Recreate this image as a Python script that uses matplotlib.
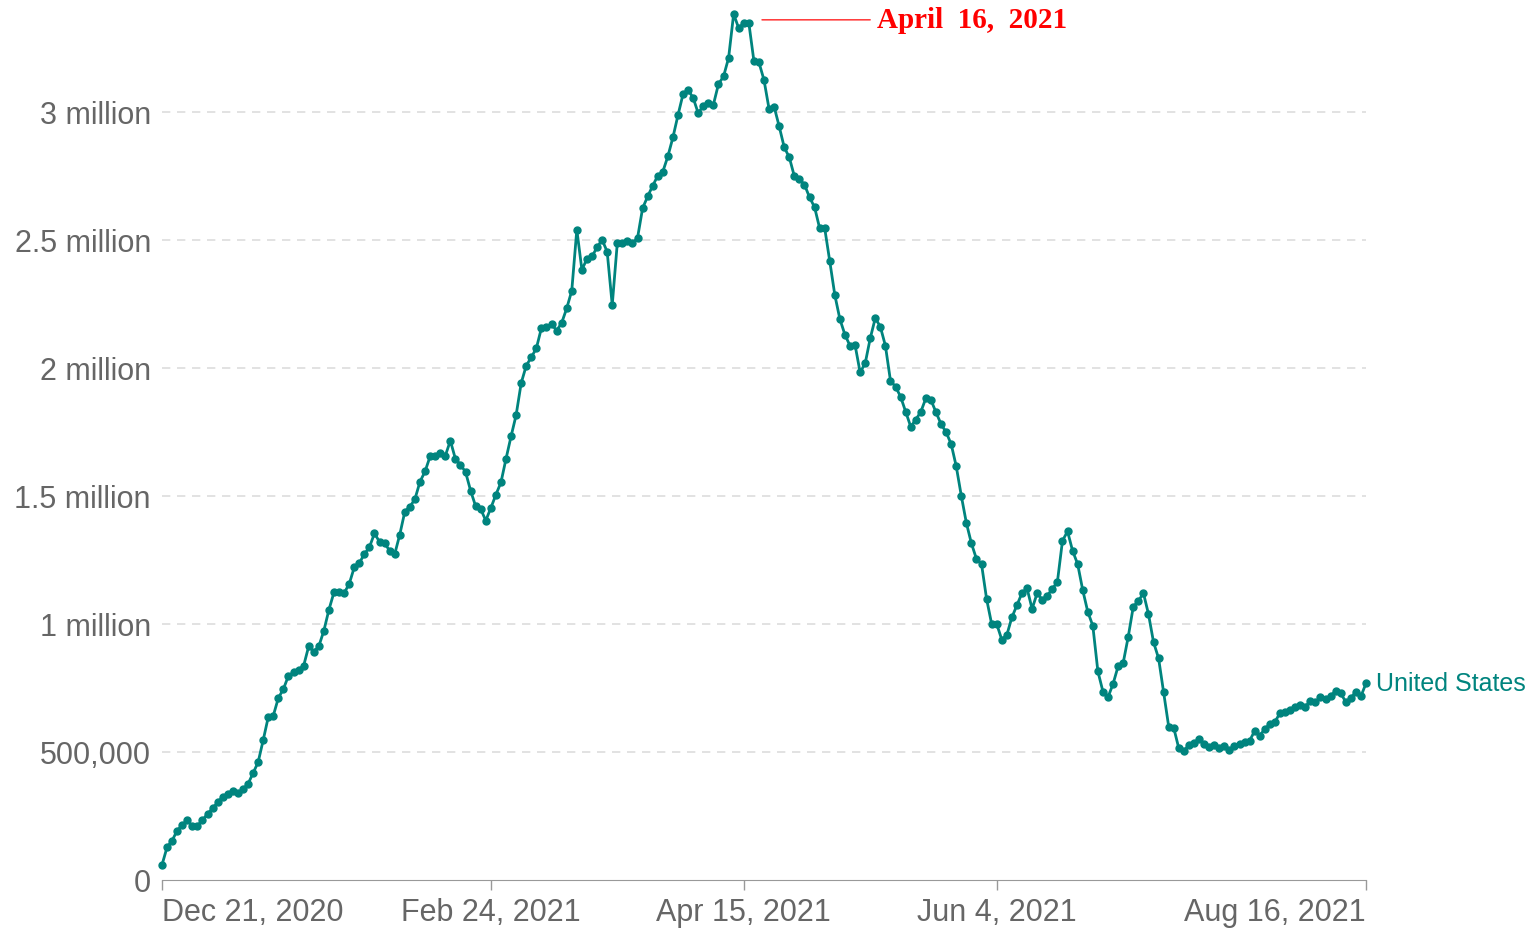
import matplotlib
matplotlib.use("Agg")
import matplotlib.pyplot as plt
import pandas as pd

# Daily doses administered, United States (millions), Dec 21 2020 .. Aug 16 2021
start_date = "2020-12-21"
doses_m = [
    0.059, 0.128, 0.154, 0.193, 0.215, 0.234, 0.210, 0.212, 0.234, 0.258,
    0.280, 0.303, 0.325, 0.336, 0.349, 0.339, 0.355, 0.375, 0.417, 0.460,
    0.546, 0.636, 0.642, 0.711, 0.746, 0.798, 0.811, 0.821, 0.837, 0.913,
    0.892, 0.913, 0.974, 1.056, 1.124, 1.126, 1.121, 1.156, 1.221, 1.238,
    1.273, 1.300, 1.354, 1.321, 1.316, 1.286, 1.273, 1.349, 1.439, 1.458,
    1.488, 1.556, 1.596, 1.655, 1.657, 1.667, 1.657, 1.716, 1.645, 1.622,
    1.594, 1.521, 1.460, 1.449, 1.404, 1.453, 1.505, 1.553, 1.645, 1.733,
    1.816, 1.941, 2.009, 2.042, 2.077, 2.156, 2.159, 2.172, 2.146, 2.176,
    2.233, 2.302, 2.540, 2.384, 2.426, 2.436, 2.471, 2.501, 2.454, 2.246,
    2.488, 2.487, 2.495, 2.487, 2.508, 2.624, 2.670, 2.712, 2.751, 2.767,
    2.827, 2.901, 2.988, 3.070, 3.086, 3.055, 2.995, 3.025, 3.034, 3.029,
    3.109, 3.139, 3.211, 3.383, 3.327, 3.348, 3.348, 3.200, 3.194, 3.125,
    3.012, 3.021, 2.944, 2.862, 2.823, 2.749, 2.738, 2.716, 2.667, 2.628,
    2.546, 2.546, 2.417, 2.285, 2.191, 2.130, 2.087, 2.090, 1.983, 2.018,
    2.116, 2.195, 2.161, 2.087, 1.950, 1.927, 1.888, 1.829, 1.771, 1.798,
    1.829, 1.882, 1.875, 1.827, 1.781, 1.749, 1.703, 1.616, 1.501, 1.395,
    1.315, 1.254, 1.234, 1.098, 1.000, 1.000, 0.939, 0.957, 1.026, 1.074,
    1.121, 1.139, 1.059, 1.121, 1.095, 1.111, 1.137, 1.165, 1.325, 1.362,
    1.286, 1.234, 1.133, 1.048, 0.993, 0.815, 0.736, 0.714, 0.766, 0.835,
    0.848, 0.950, 1.068, 1.089, 1.121, 1.039, 0.929, 0.866, 0.733, 0.599,
    0.594, 0.514, 0.503, 0.529, 0.534, 0.551, 0.531, 0.518, 0.527, 0.514,
    0.525, 0.509, 0.522, 0.531, 0.538, 0.544, 0.583, 0.564, 0.590, 0.609,
    0.618, 0.652, 0.657, 0.664, 0.675, 0.684, 0.677, 0.700, 0.694, 0.714,
    0.707, 0.718, 0.739, 0.729, 0.696, 0.710, 0.736, 0.718, 0.768,
]
dates = pd.date_range(start_date, periods=len(doses_m), freq="D")
doses = [v * 1e6 for v in doses_m]

xtick_dates = ["2020-12-21", "2021-02-24", "2021-04-15", "2021-06-04", "2021-08-16"]
xtick_labels = ["Dec 21, 2020", "Feb 24, 2021", "Apr 15, 2021", "Jun 4, 2021", "Aug 16, 2021"]
ytick_values = [0, 500000, 1000000, 1500000, 2000000, 2500000, 3000000]
ytick_labels = ["0", "500,000", "1 million", "1.5 million", "2 million", "2.5 million", "3 million"]

peak_label = "April  16,  2021"
peak_date = "2021-04-16"
series_name = "United States"

teal = "#00847e"
grey_text = "#666666"

plt.rcParams["font.family"] = ["Liberation Sans", "DejaVu Sans"]

fig = plt.figure(figsize=(15.4, 9.29), dpi=100)
ax = fig.add_axes([162 / 1540, 48 / 929, 1204 / 1540, 873 / 929])

ax.plot(dates, doses, color=teal, linewidth=2.0, marker="o", markersize=5.0,
        zorder=3, clip_on=False)

ax.set_xlim(pd.Timestamp(xtick_dates[0]), pd.Timestamp(xtick_dates[-1]))
ax.set_ylim(0, 873 / 256 * 1e6)

ax.set_yticks(ytick_values)
ax.set_yticklabels(ytick_labels)
ax.set_xticks([pd.Timestamp(d) for d in xtick_dates])
ax.set_xticklabels(xtick_labels)
labels = ax.get_xticklabels()
labels[0].set_ha("left")
labels[-1].set_ha("right")

ax.tick_params(axis="y", length=0, pad=8, labelsize=22, labelcolor=grey_text)
ax.tick_params(axis="x", length=7, width=1, color="#999999", pad=5,
               labelsize=22, labelcolor=grey_text)

for s in ["top", "right", "left"]:
    ax.spines[s].set_visible(False)
ax.spines["bottom"].set_color("#999999")

for v in ytick_values[1:]:
    ax.axhline(v, color="#dddddd", linestyle=(0, (5, 4)), linewidth=1.2, zorder=1)

# series label at the end of the line
ax.annotate(series_name, xy=(dates[-1], doses[-1]), xytext=(7, 0),
            textcoords="offset points", color=teal, fontsize=18, va="center")

# peak annotation
pk = pd.Timestamp(peak_date)
ax.annotate("", xy=(pk + pd.Timedelta(days=2.6), 3.36e6),
            xytext=(pk + pd.Timedelta(days=24), 3.36e6),
            arrowprops=dict(arrowstyle="-", color="#ff2020", linewidth=1.0,
                            shrinkA=0, shrinkB=0), annotation_clip=False)
ax.text(pk + pd.Timedelta(days=25.3), 3.36e6, peak_label, color="red",
        fontsize=21, fontweight="bold", family=["Liberation Serif", "DejaVu Serif"],
        va="center", ha="left")

fig.savefig("out.png", dpi=100)
